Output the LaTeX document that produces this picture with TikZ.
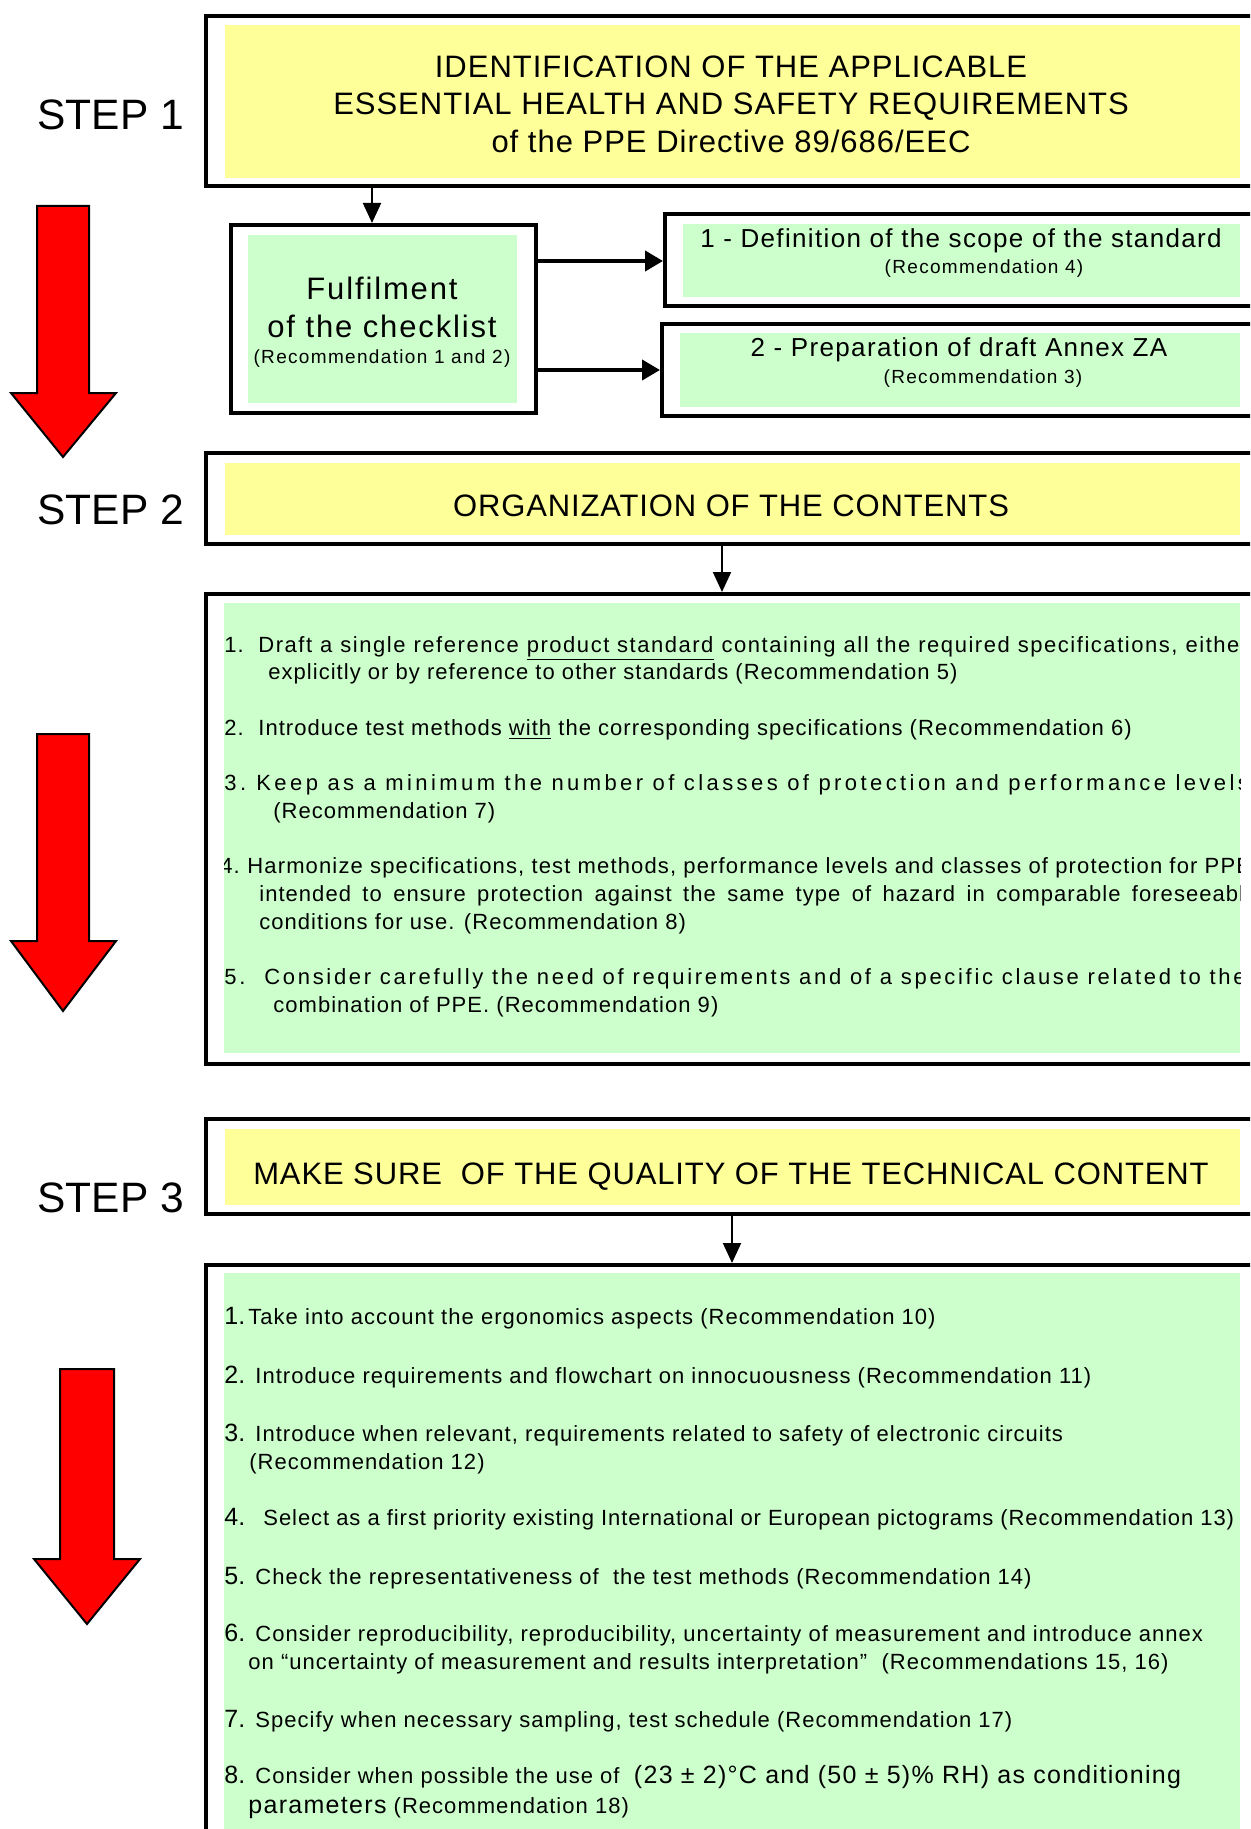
\documentclass[tikz,border=0pt]{standalone}
\usepackage{fontspec}
\setmainfont{Liberation Sans}
\newfontfamily\lsA[LetterSpace=3.2]{Liberation Sans}
\newfontfamily\lsB[LetterSpace=4.7]{Liberation Sans}
\newfontfamily\lsC[LetterSpace=7]{Liberation Sans}
\newfontfamily\lsD[LetterSpace=6]{Liberation Sans}
\newfontfamily\lsE[LetterSpace=15.5]{Liberation Sans}
\newfontfamily\lsF[LetterSpace=12.2]{Liberation Sans}
\newfontfamily\lsG[LetterSpace=5.2]{Liberation Sans}
\newfontfamily\lsH[LetterSpace=2.8]{Liberation Sans}
\newfontfamily\lsI[LetterSpace=4.3]{Liberation Sans}
\usetikzlibrary{fit,arrows.meta}
\definecolor{boxyellow}{HTML}{FFFF99}
\definecolor{boxgreen}{HTML}{CCFFCC}
\definecolor{arrowred}{HTML}{FF0000}
\tikzset{
  frame/.style={draw=black, line width=2pt, inner sep=0pt},
  steplabel/.style={anchor=base west, inner sep=0pt, font=\fontsize{21.25}{24}\selectfont},
  titletext/.style={anchor=base, inner sep=0pt, font=\lsA\fontsize{15.5}{18}\selectfont},
  bigcheck/.style={anchor=base, inner sep=0pt, font=\lsD\fontsize{15.5}{18}\selectfont},
  smallrec/.style={anchor=base, inner sep=0pt, font=\lsC\fontsize{9.5}{11}\selectfont},
  boxtitle/.style={anchor=base, inner sep=0pt, font=\lsG\fontsize{13}{15}\selectfont},
  itemtext/.style={anchor=base west, inner sep=0pt, font=\lsB\fontsize{11}{13}\selectfont},
  itemnum/.style={anchor=base west, inner sep=0pt, font=\fontsize{12.5}{14}\selectfont},
  conn/.style={draw=black, line width=1pt, -{Triangle[length=10pt,width=9pt]}},
  thickconn/.style={draw=black, line width=2pt, -{Triangle[length=9pt,width=10pt]}},
  redarrow/.style={fill=arrowred, draw=black, line width=1pt, line join=miter},
}
\begin{document}
\begin{tikzpicture}[x=0.5pt,y=-0.5pt]
\useasboundingbox (0,0) rectangle (1250,1829);
\clip (0,0) rectangle (1250,1829);
\fill[white] (0,0) rectangle (1250,1829);

% ---------- outer frames ----------
\node[frame, fit={(206,16) (1270,186)}] (s1) {};
\node[frame, fit={(231,225) (536,413)}] (cl) {};
\node[frame, fit={(665,214) (1270,306)}] (b1) {};
\node[frame, fit={(662,324) (1270,416)}] (b2) {};
\node[frame, fit={(206,453) (1270,544)}] (s2) {};
\node[frame, fit={(206,594) (1270,1064)}] (t2) {};
\node[frame, fit={(206,1119) (1270,1214)}] (s3) {};
\node[frame, fit={(206,1265) (1270,1850)}] (t3) {};

% ---------- fills ----------
\fill[boxyellow] (225,25) rectangle (1240,178);
\fill[boxgreen] (248,235) rectangle (517,403);
\fill[boxgreen] (683,224) rectangle (1240,297);
\fill[boxgreen] (680,333) rectangle (1240,407);
\fill[boxyellow] (225,463) rectangle (1240,535);
\fill[boxgreen] (224,603) rectangle (1240,1053);
\fill[boxyellow] (225,1129) rectangle (1240,1205);
\fill[boxgreen] (224,1273) rectangle (1240,1829);

% ---------- step labels ----------
\node[steplabel] (st1) at (37,130) {STEP 1};
\node[steplabel] (st2) at (37,524) {STEP 2};
\node[steplabel] (st3) at (37,1212) {STEP 3};

% ---------- red arrows ----------
\draw[redarrow] (37,206) -- (89,206) -- (89,393) -- (116,393) -- (63,457) -- (11,393) -- (37,393) -- cycle;
\draw[redarrow] (37,734) -- (89,734) -- (89,941) -- (116,941) -- (63,1011) -- (11,941) -- (37,941) -- cycle;
\draw[redarrow] (60,1369) -- (114,1369) -- (114,1559) -- (140,1559) -- (87,1624) -- (34,1559) -- (60,1559) -- cycle;

% ---------- step 1 ----------
\node[titletext] (t1a) at (731,78) {IDENTIFICATION OF THE APPLICABLE};
\node[titletext] (t1b) at (731,115) {ESSENTIAL HEALTH AND SAFETY REQUIREMENTS};
\node[titletext] (t1c) at (731,153) {of the PPE Directive 89/686/EEC};

\node[bigcheck] (cla) at (382,300) {Fulfilment};
\node[bigcheck] (clb) at (382,337) {of the checklist};
\node[smallrec] (clc) at (382,364) {(Recommendation 1 and 2)};

\node[boxtitle] (b1a) at (961,248) {1 - Definition of the scope of the standard};
\node[smallrec] (b1b) at (984,274) {(Recommendation 4)};
\node[boxtitle] (b2a) at (959,357) {2 - Preparation of draft Annex ZA};
\node[smallrec] (b2b) at (983,383) {(Recommendation 3)};

% ---------- step 2 ----------
\node[titletext, font=\lsH\fontsize{15.5}{18}\selectfont] (t2a) at (731,516) {ORGANIZATION OF THE CONTENTS};

\begin{scope}
\clip (224,603) rectangle (1240,1053);
\node[itemtext] (n21) at (224,652) {1.};
\node[itemtext, font=\lsC\fontsize{11}{13}\selectfont] (i21a) at (258,652) {\makebox[495pt][s]{Draft a single reference \underline{product standard} containing all the required specifications, either}};
\node[itemtext] (i21b) at (268,679) {explicitly or by reference to other standards (Recommendation 5)};
\node[itemtext] (n22) at (224,735) {2.};
\node[itemtext] (i22) at (258,735) {Introduce test methods \underline{with} the corresponding specifications (Recommendation 6)};
\node[itemtext, font=\lsE\fontsize{11}{13}\selectfont] (n23) at (224,790) {3.};
\node[itemtext, font=\lsE\fontsize{11}{13}\selectfont] (i23a) at (256,790) {Keep as a minimum the number of classes of protection and performance levels};
\node[itemtext] (i23b) at (273,818) {(Recommendation 7)};
\node[itemtext] (n24) at (220,873) {4.};
\node[itemtext, font=\lsG\fontsize{11}{13}\selectfont] (i24a) at (247,873) {Harmonize specifications, test methods, performance levels and classes of protection for PPE};
\node[itemtext] (i24b) at (259,901) {\makebox[499pt][s]{intended to ensure protection against the same type of hazard in comparable foreseeable}};
\node[itemtext] (i24c) at (259,929) {conditions for use. (Recommendation 8)};
\node[itemtext, font=\lsF\fontsize{11}{13}\selectfont] (n25) at (224,984) {5.};
\node[itemtext, font=\lsF\fontsize{11}{13}\selectfont] (i25a) at (264,984) {Consider carefully the need of requirements and of a specific clause related to the};
\node[itemtext] (i25b) at (273,1012) {combination of PPE. (Recommendation 9)};
\end{scope}

% ---------- step 3 ----------
\node[titletext, font=\lsH\fontsize{15.5}{18}\selectfont] (t3a) at (731,1184) {MAKE SURE\ \ OF THE QUALITY OF THE TECHNICAL CONTENT};

\begin{scope}
\clip (224,1273) rectangle (1240,1829);
\node[itemnum] (n31) at (224,1324) {1.};
\node[itemtext] (i31) at (248,1324) {Take into account the ergonomics aspects (Recommendation 10)};
\node[itemnum] (n32) at (224,1383) {2.};
\node[itemtext] (i32) at (255,1383) {Introduce requirements and flowchart on innocuousness (Recommendation 11)};
\node[itemnum] (n33) at (224,1441) {3.};
\node[itemtext] (i33a) at (255,1441) {Introduce when relevant, requirements related to safety of electronic circuits};
\node[itemtext] (i33b) at (249,1469) {(Recommendation 12)};
\node[itemnum] (n34) at (224,1525) {4.};
\node[itemtext, font=\lsI\fontsize{11}{13}\selectfont] (i34) at (263,1525) {Select as a first priority existing International or European pictograms (Recommendation 13)};
\node[itemnum] (n35) at (224,1584) {5.};
\node[itemtext] (i35) at (255,1584) {Check the representativeness of\ \ the test methods (Recommendation 14)};
\node[itemnum] (n36) at (224,1641) {6.};
\node[itemtext] (i36a) at (255,1641) {Consider reproducibility, reproducibility, uncertainty of measurement and introduce annex};
\node[itemtext] (i36b) at (248,1669) {on “uncertainty of measurement and results interpretation”\ \ (Recommendations 15, 16)};
\node[itemnum] (n37) at (224,1727) {7.};
\node[itemtext] (i37) at (255,1727) {Specify when necessary sampling, test schedule (Recommendation 17)};
\node[itemnum] (n38) at (224,1783) {8.};
\node[itemtext] (i38a) at (255,1783) {Consider when possible the use of\ \ {\lsG\fontsize{12.5}{14}\selectfont (23 ± 2)°C and (50 ± 5)\% RH) as conditioning}};
\node[itemtext] (i38b) at (248,1813) {{\lsG\fontsize{12.5}{14}\selectfont parameters} (Recommendation 18)};
\end{scope}

% ---------- connectors ----------
\coordinate (xa) at (372,0);
\coordinate (xb) at (722,0);
\coordinate (xc) at (732,0);
\coordinate (ya) at (0,261);
\coordinate (yb) at (0,370);
\draw[conn] (xa |- s1.south) -- (xa |- cl.north);
\draw[thickconn] (cl.east |- ya) -- (b1.west |- ya);
\draw[thickconn] (cl.east |- yb) -- (b2.west |- yb);
\draw[conn] (xb |- s2.south) -- (xb |- t2.north);
\draw[conn] (xc |- s3.south) -- (xc |- t3.north);
\end{tikzpicture}
\end{document}
